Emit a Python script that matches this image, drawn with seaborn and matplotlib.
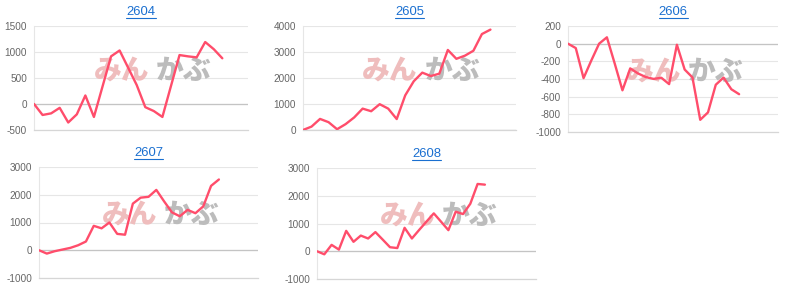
import matplotlib
matplotlib.use("Agg")
import matplotlib.pyplot as plt
import matplotlib.transforms as mtransforms
from matplotlib.lines import Line2D
import numpy as np
import pandas as pd
import seaborn as sns

# ---- data ----
titles = ["2604", "2605", "2606", "2607", "2608"]
s2604 = [0, -212, -181, -75, -356, -200, 162, -250, 331, 912, 1025, 694, 362,
         -62, -137, -250, 343, 937, 912, 893, 1187, 1050, 875]
s2605 = [0, 130, 425, 300, 30, 225, 480, 820, 720, 990, 820, 420, 1330, 1870,
         2200, 2070, 2160, 3070, 2730, 2850, 3040, 3680, 3850]
s2606 = [0, -50, -390, -190, 0, 72, -223, -528, -280, -337, -378, -399, -386,
         -458, -12, -293, -382, -862, -778, -465, -384, -516, -572]
s2607 = [0, -120, -35, 25, 85, 180, 315, 880, 790, 1000, 590, 560, 1680, 1895,
         1925, 2175, 1760, 1365, 1225, 1455, 1335, 1580, 2320, 2550]
s2608 = [0, -110, 230, 60, 735, 340, 565, 460, 690, 420, 145, 115, 845, 460,
         770, 1070, 1365, 1063, 760, 1425, 1340, 1710, 2425, 2400]
series = [s2604, s2605, s2606, s2607, s2608]
x_slots = [25, 25, 27, 28, 30]
y_ticks = [
    [-500, 0, 500, 1000, 1500],
    [0, 1000, 2000, 3000, 4000],
    [-1000, -800, -600, -400, -200, 0, 200],
    [-1000, 0, 1000, 2000, 3000],
    [-1000, 0, 1000, 2000, 3000],
]
wm_left = "みん"
wm_right = "かぶ"

# ---- style ----
sns.set_theme(style="white")
plt.rcParams["font.family"] = ["Liberation Sans", "DejaVu Sans"]

W, H = 800, 291
fig = plt.figure(figsize=(W / 100, H / 100), dpi=100)
fig.patch.set_facecolor("white")

boxes = [(34, 248, 25.7, 130), (303, 516, 25.7, 130), (568, 778, 26, 132),
         (39, 258, 167, 278), (317, 536, 168, 279)]

line_color = "#ff4d6b"
axes = []
for title, vals, xmax, ticks, (l, r, t, b) in zip(titles, series, x_slots, y_ticks, boxes):
    ax = fig.add_axes([l / W, 1 - b / H, (r - l) / W, (b - t) / H])
    df = pd.DataFrame({"day": np.arange(len(vals)), "value": vals})
    sns.lineplot(data=df, x="day", y="value", ax=ax, color=line_color,
                 linewidth=1.7, zorder=4)
    ax.set_xlim(0, xmax)
    ax.set_ylim(ticks[0], ticks[-1])
    ax.set_yticks(ticks)
    ax.set_yticklabels([str(v) for v in ticks])
    ax.set_xticks([])
    ax.set_xlabel("")
    ax.set_ylabel("")
    ax.grid(axis="y", color="#e6e6e6", linewidth=0.8, zorder=0)
    ax.axhline(0, color="#c4c4c4", linewidth=0.9, zorder=1)
    for side in ["top", "right"]:
        ax.spines[side].set_visible(False)
    ax.spines["left"].set_color("#e6e6e6")
    ax.spines["left"].set_linewidth(0.8)
    ax.spines["bottom"].set_color("#d6d6d6")
    ax.spines["bottom"].set_linewidth(0.9)
    ax.tick_params(axis="y", labelsize=7.2, colors="#666666", length=0, pad=5)
    ax.set_title(title, color="#1a6fd0", fontsize=9.4, pad=8)

    # watermark
    off_l = mtransforms.offset_copy(ax.transAxes, fig=fig, x=-30, y=0, units="dots")
    off_r = mtransforms.offset_copy(ax.transAxes, fig=fig, x=32, y=0, units="dots")
    ax.text(0.55, 0.57, wm_left, transform=off_l, ha="center", va="center",
            fontsize=20, fontweight="black", color="#efbdbd",
            family=["Noto Sans CJK JP", "DejaVu Sans"], zorder=2)
    ax.text(0.55, 0.57, wm_right, transform=off_r, ha="center", va="center",
            fontsize=20, fontweight="black", color="#bcbcbc",
            family=["Noto Sans CJK JP", "DejaVu Sans"], zorder=2)
    axes.append(ax)

# underline titles
fig.canvas.draw()
renderer = fig.canvas.get_renderer()
for ax in axes:
    bb = ax.title.get_window_extent(renderer)
    y = bb.y0 - 0.5
    fig.add_artist(Line2D([bb.x0 / W, bb.x1 / W], [y / H, y / H],
                          color="#1a6fd0", linewidth=0.8,
                          transform=fig.transFigure))

fig.savefig("out.png", dpi=100, facecolor="white")
